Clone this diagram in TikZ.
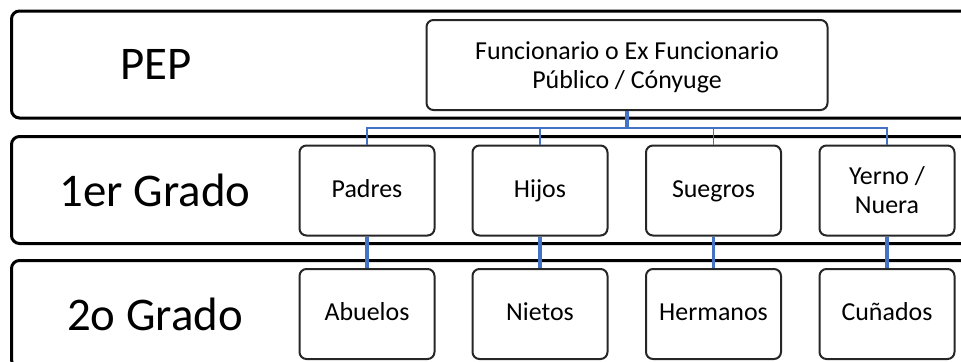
\documentclass[tikz,border=0pt]{standalone}
\usepackage{fontspec}
\setmainfont{Carlito}
\usepackage{tikz}
\usetikzlibrary{positioning}
\definecolor{linkblue}{RGB}{68,114,196}

\begin{document}
\begin{tikzpicture}[
  band/.style={draw=black,line width=3bp,rounded corners=8bp,minimum width=975bp,minimum height=107bp,inner sep=0pt},
  grado/.style={font=\fontsize{47}{52}\selectfont},
  box/.style={draw=black!85,line width=2bp,rounded corners=7bp,fill=white,minimum width=135bp,minimum height=90bp,align=center,inner sep=1bp,font=\fontsize{26}{29}\selectfont},
  onebox/.style={box,text height=19bp,text depth=6bp},
  stem/.style={draw=linkblue,line width=3.5bp},
  branch/.style={draw=linkblue,line width=1.8bp}]
\clip (0bp,0bp) rectangle (961bp,-362bp);
\node (bandPEP) at (499bp,-64.5bp)[band] {};
\node (bandUno) at (499bp,-190bp)[band] {};
\node (bandDos) at (499bp,-314bp)[band] {};
\node (lblPEP) at (156bp,-64bp)[grado] {PEP};
\node (lblUno) at (155bp,-190bp)[grado] {1er Grado};
\node (lblDos) at (155bp,-314bp)[grado] {2o Grado};
\node (Func) at (627bp,-65bp)[box,minimum width=401bp,text depth=0bp] {Funcionario o Ex Funcionario\\Público / Cónyuge};
\node (Padres) at (367bp,-190.5bp)[onebox] {Padres};
\node (Hijos) at (540bp,-190.5bp)[onebox] {Hijos};
\node (Suegros) at (713.5bp,-190.5bp)[onebox] {Suegros};
\node (Yerno) at (887bp,-190.5bp)[box] {Yerno /\\Nuera};
\node (Abuelos) at (367bp,-314bp)[onebox] {Abuelos};
\node (Nietos) at (540bp,-314bp)[onebox] {Nietos};
\node (Hermanos) at (713.5bp,-314bp)[onebox] {Hermanos};
\node (Cunados) at (887bp,-314bp)[onebox] {Cuñados};
\coordinate (bar) at (627bp,-128bp);
\draw [stem] (Func) -- (bar);
\draw [branch] (bar) -| (Padres);
\draw [branch] (bar) -| (Hijos);
\draw [branch] (bar) -| (Suegros);
\draw [branch] (bar) -| (Yerno);
\draw [stem] (Padres) -- (Abuelos);
\draw [stem] (Hijos) -- (Nietos);
\draw [stem] (Suegros) -- (Hermanos);
\draw [stem] (Yerno) -- (Cunados);
\end{tikzpicture}
\end{document}
